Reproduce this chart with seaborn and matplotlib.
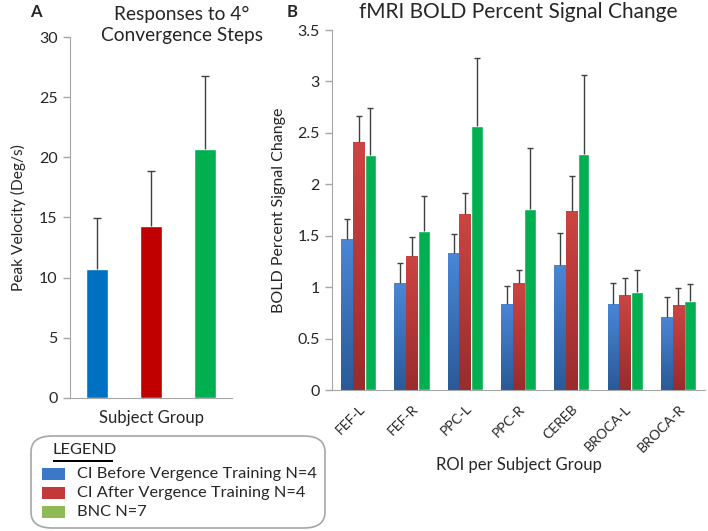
import numpy as np
import matplotlib
matplotlib.use("Agg")
import matplotlib.pyplot as plt
import pandas as pd
import seaborn as sns
from matplotlib.patches import FancyBboxPatch, Rectangle
from matplotlib.colors import LinearSegmentedColormap

# panel A data
groups_a = ["CI Before", "CI After", "BNC"]
velocity = [10.7, 14.3, 20.7]
velocity_err = [4.25, 4.6, 6.1]

# panel B data
rois = ["FEF-L", "FEF-R", "PPC-L", "PPC-R", "CEREB", "BROCA-L", "BROCA-R"]
bold_before = [1.47, 1.04, 1.33, 0.84, 1.215, 0.84, 0.71]
bold_after = [2.41, 1.30, 1.71, 1.04, 1.74, 0.92, 0.83]
bold_bnc = [2.28, 1.55, 2.57, 1.76, 2.29, 0.955, 0.87]
err_before = [0.19, 0.19, 0.19, 0.17, 0.31, 0.20, 0.19]
err_after = [0.25, 0.185, 0.21, 0.13, 0.34, 0.17, 0.165]
err_bnc = [0.46, 0.34, 0.66, 0.59, 0.77, 0.21, 0.16]

legend_labels = ["CI Before Vergence Training N=4",
                 "CI After Vergence Training N=4",
                 "BNC N=7"]

sns.set_style("white")
plt.rcParams["font.family"] = ["Lato", "DejaVu Sans"]

fig = plt.figure(figsize=(7.08, 5.31), dpi=100)
axA = fig.add_axes([0.0989, 0.2505, 0.2288, 0.6798])
axB = fig.add_axes([0.469, 0.2655, 0.5268, 0.678])

spine_col = "#a6a6a6"
err_col = "#404040"


def top_error(ax, x, y, e, cap):
    # only the upper whisker, like the original
    _, caps, _ = ax.errorbar(x, y, yerr=[[0], [e]], fmt="none", ecolor=err_col,
                             elinewidth=1, capsize=cap, capthick=1, zorder=5)
    caps[0].set_visible(False)


# ---- panel A
sns.barplot(x=groups_a, y=velocity, hue=groups_a, palette=["#0070c0", "#c00000", "#00b050"],
            saturation=1, width=0.4, legend=False, ax=axA)
for cont, v, e in zip(axA.containers, velocity, velocity_err):
    for bar in cont:
        top_error(axA, bar.get_x() + bar.get_width() / 2, v, e, 3)
axA.set_ylim(0, 30)
axA.set_xlim(-0.5, 2.5)
axA.set_yticks(range(0, 31, 5))
axA.set_xticks([])
axA.set_ylabel("Peak Velocity (Deg/s)", fontsize=11.2, labelpad=9)
axA.set_xlabel("Subject Group", fontsize=12, labelpad=9)

# ---- panel B
df = pd.DataFrame({
    "roi": rois * 3,
    "value": bold_before + bold_after + bold_bnc,
    "group": ["before"] * 7 + ["after"] * 7 + ["bnc"] * 7,
})
sns.barplot(data=df, x="roi", y="value", hue="group", palette=["#3c78c8", "#c3393a", "#00b050"],
            saturation=1, width=0.66, legend=False, ax=axB)

grads = [("#2a5a98", "#4a86d6"), ("#9a2c2c", "#cc4442"), None]
for cont, vals, errs, g in zip(axB.containers, [bold_before, bold_after, bold_bnc],
                               [err_before, err_after, err_bnc], grads):
    for bar, v, e in zip(cont, vals, errs):
        x0 = bar.get_x()
        w = bar.get_width()
        if g is not None:
            cmap = LinearSegmentedColormap.from_list("g", list(g))
            im = axB.imshow(np.linspace(1, 0, 50).reshape(-1, 1), cmap=cmap, aspect="auto",
                            extent=[x0, x0 + w, 0, v], zorder=bar.get_zorder() + 0.1)
            im.set_clip_path(bar)
        top_error(axB, x0 + w / 2, v, e, 2.5)

axB.set_xlim(-0.5, 6.5)
axB.set_ylim(0, 3.5)
axB.set_yticks(np.arange(0, 3.51, 0.5))
axB.set_yticklabels(["0", "0.5", "1", "1.5", "2", "2.5", "3", "3.5"])
axB.set_xticks(range(7))
axB.set_xticklabels(rois, rotation=45, ha="right", rotation_mode="anchor", fontsize=10)
axB.set_xticks(np.arange(-0.5, 7, 1), minor=True)
axB.tick_params(axis="x", which="major", length=0, pad=9)
axB.tick_params(axis="x", which="minor", length=5, width=1, color=spine_col, direction="out")
axB.set_ylabel("BOLD Percent Signal Change", fontsize=11.5, labelpad=8)
axB.set_xlabel("ROI per Subject Group", fontsize=12, labelpad=2)
axB.set_title("fMRI BOLD Percent Signal Change", fontsize=15, pad=9)

for ax in (axA, axB):
    sns.despine(ax=ax)
    ax.spines["left"].set_color(spine_col)
    ax.spines["bottom"].set_color(spine_col)
    ax.tick_params(axis="y", which="major", length=5, width=1, color=spine_col,
                   direction="out", labelsize=11.5, pad=4, left=True)

fig.text(182 / 708, 1 - 25 / 531, "Responses to 4°\nConvergence Steps", fontsize=13.8,
         ha="center", va="center", linespacing=1.3)
fig.text(30 / 708, 1 - 12 / 531, "A", fontsize=12, fontweight="bold", va="center")
fig.text(287 / 708, 1 - 12 / 531, "B", fontsize=12, fontweight="bold", va="center")

# ---- legend box
box = FancyBboxPatch((31 / 708, 1 - 528 / 531), 294 / 708, 92 / 531,
                     boxstyle="round,pad=0,rounding_size=0.03", transform=fig.transFigure,
                     facecolor="white", edgecolor="#a6a6a6", linewidth=1.2, zorder=1)
fig.patches.append(box)
fig.text(53 / 708, 1 - 450 / 531, "LEGEND", fontsize=11.8, va="center", zorder=4)
# underline under LEGEND
fig.patches.append(Rectangle((53 / 708, 1 - 462 / 531), 60 / 708, 1.6 / 531,
                             transform=fig.transFigure, facecolor="black", edgecolor="none",
                             zorder=3))
leg_colors = ["#3c78c8", "#c3393a", "#8fba55"]
for i, (lab, c) in enumerate(zip(legend_labels, leg_colors)):
    yc = 474 + i * 19
    fig.patches.append(Rectangle((42 / 708, 1 - (yc + 6) / 531), 23 / 708, 12 / 531,
                                 transform=fig.transFigure, facecolor=c, edgecolor="none",
                                 zorder=2))
    fig.text(77 / 708, 1 - yc / 531, lab, fontsize=11.8, va="center")

fig.savefig("out.png", dpi=100)
